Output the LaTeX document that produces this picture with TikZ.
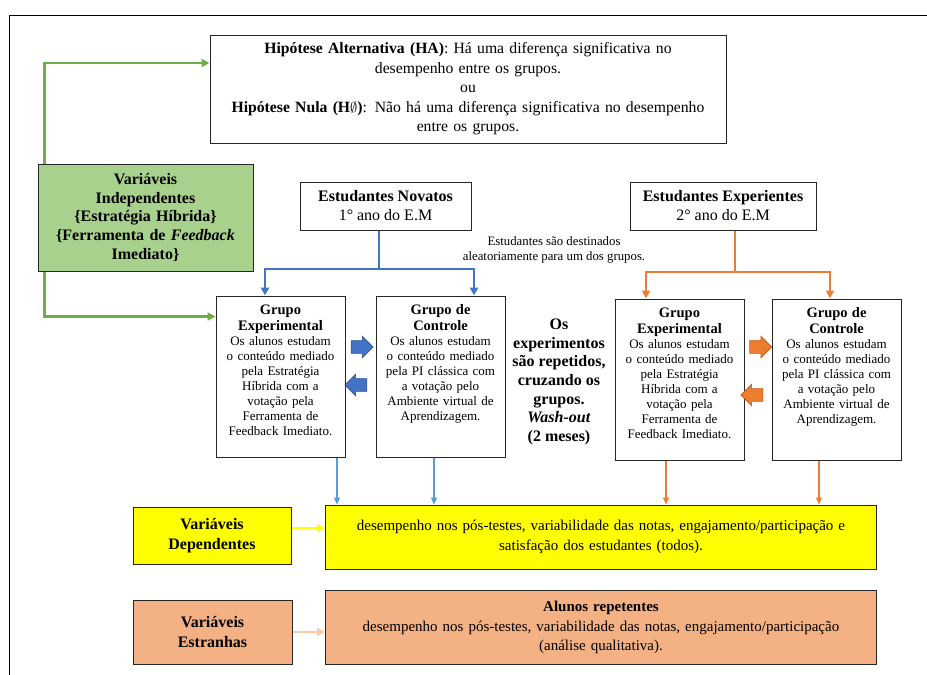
\documentclass[tikz,border=0pt]{standalone}
\usepackage{fontspec}
\setmainfont{Liberation Serif}
\usepackage{tikz}
\usetikzlibrary{arrows.meta,positioning,shapes.arrows}
\usepackage{xcolor}
\definecolor{vargreen}{HTML}{A9D18E}
\definecolor{linegreen}{HTML}{70AD47}
\definecolor{lineblue}{HTML}{4472C4}
\definecolor{lightblue}{HTML}{5B9BD5}
\definecolor{darkblue}{HTML}{2F528F}
\definecolor{lineorange}{HTML}{ED7D31}
\definecolor{darkorange}{HTML}{C55A11}
\definecolor{varyellow}{HTML}{FFFF00}
\definecolor{varsalmon}{HTML}{F4B183}
\definecolor{lightsalmon}{HTML}{F8CBAD}

\begin{document}
\begin{tikzpicture}[
  x=1pt, y=-1pt,
  box/.style={draw=black!85, line width=1pt, align=center},
  cohort/.style={box, minimum height=48pt, inner sep=2pt, font=\fontsize{16}{19}\selectfont},
  grp/.style={box, minimum width=129pt, minimum height=161pt, text width=123pt, inner xsep=3pt, inner ysep=8pt, text depth=134pt, font=\fontsize{13}{15}\selectfont},
  swaparrow/.style={single arrow, minimum height=22pt, single arrow head extend=4.5pt, inner xsep=0pt, inner ysep=6pt, line width=0.6pt},
  garr/.style={-{Triangle[length=8pt,width=8pt]}, linegreen, line width=2.2pt},
  bline/.style={lineblue, line width=2pt},
  barr/.style={bline, -{Triangle[length=8pt,width=8pt]}},
  oline/.style={lineorange, line width=2pt},
  oarr/.style={oline, -{Triangle[length=8pt,width=8pt]}},
  thinb/.style={lightblue, line width=1.2pt, -{Triangle[length=7pt,width=6pt]}},
  thino/.style={lineorange, line width=1.2pt, -{Triangle[length=7pt,width=6pt]}},
]
  \useasboundingbox (0,0) rectangle (927,675);
  % frame
  \draw[line width=1pt] (9,675) |- (927,15);

  % hypotheses and independent variables
  \node[box, minimum width=516pt, minimum height=108pt, text width=508pt, font=\fontsize{15.7}{19.5}\selectfont] (hyp) at (468,89)
    {\textbf{Hipótese Alternativa (HA)}: Há uma diferença significativa no\\desempenho entre os grupos.\\ou\\\textbf{Hipótese Nula (H$\emptyset$)}: Não há uma diferença significativa no desempenho\\entre os grupos.};
  \node[box, fill=vargreen, minimum width=215pt, minimum height=107pt, text width=208pt, font=\bfseries\fontsize{16}{18.7}\selectfont] (indep) at (145.5,217.5)
    {Variáveis\\Independentes\\\{Estratégia Híbrida\}\\\{Ferramenta de \textit{Feedback}\\Imediato\}};

  % student cohorts
  \node[cohort, minimum width=171pt] (nov) at (385.5,206) {\textbf{Estudantes Novatos}\\1° ano do E.M};
  \node[cohort, minimum width=186pt] (exper) at (723,206) {\textbf{Estudantes Experientes}\\2° ano do E.M};

  % groups
  \node[grp] (novexp) at (280.5,376.5)
    {{\bfseries\fontsize{14.5}{16}\selectfont Grupo\\[1pt]Experimental}\\Os alunos estudam\\o conteúdo mediado\\pela Estratégia\\Híbrida com a\\votação pela\\Ferramenta de\\Feedback Imediato.};
  \node[grp, right=30pt of novexp] (novctl)
    {{\bfseries\fontsize{14.5}{16}\selectfont Grupo de\\[1pt]Controle}\\Os alunos estudam\\o conteúdo mediado\\pela PI clássica com\\a votação pelo\\Ambiente virtual de\\Aprendizagem.};
  \node[grp] (expexp) at (679.5,379.5)
    {{\bfseries\fontsize{14.5}{16}\selectfont Grupo\\[1pt]Experimental}\\Os alunos estudam\\o conteúdo mediado\\pela Estratégia\\Híbrida com a\\votação pela\\Ferramenta de\\Feedback Imediato.};
  \node[grp, right=27pt of expexp] (expctl)
    {{\bfseries\fontsize{14.5}{16}\selectfont Grupo de\\[1pt]Controle}\\Os alunos estudam\\o conteúdo mediado\\pela PI clássica com\\a votação pelo\\Ambiente virtual de\\Aprendizagem.};

  % crossing arrows
  \node[swaparrow, fill=lineblue, draw=darkblue] (nfwd) at (359,347) {};
  \node[swaparrow, fill=lineblue, draw=darkblue, shape border rotate=180] (nback) at (359,385) {};
  \node[swaparrow, fill=lineorange, draw=darkorange] (efwd) at (757.5,347) {};
  \node[swaparrow, fill=lineorange, draw=darkorange, shape border rotate=180] (eback) at (755,395) {};

  \node[font=\fontsize{12.8}{15.3}\selectfont, align=center] (rand) at (554,250)
    {Estudantes são destinados\\aleatoriamente para um dos grupos.};
  \node[font=\bfseries\fontsize{16}{18.7}\selectfont, align=center] (wash) at (559,382)
    {Os\\experimentos\\são repetidos,\\cruzando os\\grupos.\\\textit{Wash-out}\\(2 meses)};

  % dependent and extraneous variables
  \node[box, fill=varyellow, minimum width=158pt, minimum height=57pt, font=\bfseries\fontsize{16}{19.5}\selectfont] (depvar) at (212,535.5) {Variáveis\\Dependentes};
  \node[box, fill=varyellow, minimum width=551pt, minimum height=64pt, text width=540pt, font=\fontsize{15}{19.5}\selectfont] (depbox) at (601,537)
    {desempenho nos pós-testes, variabilidade das notas, engajamento/participação e\\satisfação dos estudantes (todos).\\[-6pt]};
  \node[box, fill=varsalmon, minimum width=159pt, minimum height=64pt, font=\bfseries\fontsize{16}{19.5}\selectfont] (extvar) at (212.5,632) {Variáveis\\Estranhas};
  \node[box, fill=varsalmon, minimum width=551pt, minimum height=74pt, text width=540pt, font=\fontsize{15}{19.5}\selectfont] (extbox) at (601,627.5)
    {\textbf{Alunos repetentes}\\desempenho nos pós-testes, variabilidade das notas, engajamento/participação\\(análise qualitativa).};

  % connectors
  \draw[garr] ([xshift=7pt]indep.north west) |- ([yshift=26pt]hyp.west);
  \draw[garr] ([xshift=7pt]indep.south west) |- ([yshift=-21pt]novexp.north west);

  \coordinate (nsplit) at (379,269);
  \draw[bline] (nov.south -| nsplit) -- (nsplit);
  \draw[barr] (nsplit) -| ([xshift=-15.5pt]novexp.north);
  \draw[barr] (nsplit) -| ([xshift=33.5pt]novctl.north);

  \coordinate (esplit) at (735,272);
  \draw[oline] (exper.south -| esplit) -- (esplit);
  \draw[oarr] (esplit) -| ([xshift=-33.5pt]expexp.north);
  \draw[oarr] (esplit) -| ([xshift=-6.5pt]expctl.north);

  \coordinate (d1) at (337,0);
  \coordinate (d2) at (434,0);
  \coordinate (d3) at (666,0);
  \coordinate (d4) at (819,0);
  \draw[thinb] (novexp.south -| d1) -- (depbox.north -| d1);
  \draw[thinb] (novctl.south -| d2) -- (depbox.north -| d2);
  \draw[thino] (expexp.south -| d3) -- (depbox.north -| d3);
  \draw[thino] (expctl.south -| d4) -- (depbox.north -| d4);

  \coordinate (ya) at (0,528);
  \coordinate (sa) at (0,632);
  \draw[varyellow, line width=2pt, -{Triangle[length=8pt,width=8pt]}] (depvar.east |- ya) -- (depbox.west |- ya);
  \draw[lightsalmon, line width=2pt, -{Triangle[length=8pt,width=8pt]}] (extvar.east |- sa) -- (extbox.west |- sa);
\end{tikzpicture}
\end{document}
